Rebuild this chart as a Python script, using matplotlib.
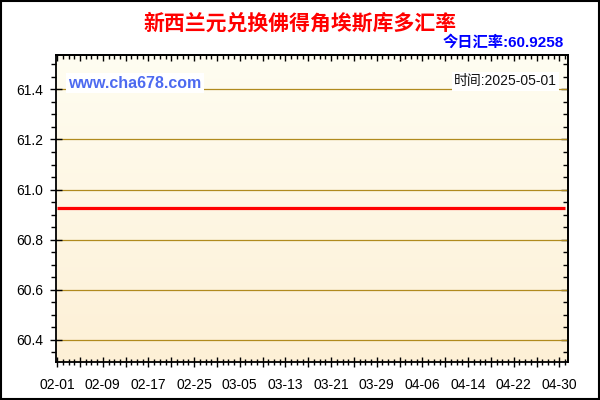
import numpy as np
import pandas as pd
import matplotlib
matplotlib.use('Agg')
import matplotlib.pyplot as plt
import matplotlib.dates as mdates
from matplotlib.colors import LinearSegmentedColormap
from matplotlib.patches import Rectangle
from matplotlib.ticker import FixedLocator, MultipleLocator, FuncFormatter, NullFormatter

plt.rcParams['font.family'] = ['Liberation Sans', 'Noto Sans CJK SC', 'DejaVu Sans']

# Data: the rate stayed flat over the whole period
dates = pd.to_datetime(['2025-02-01', '2025-05-01'])
rates = [60.9258, 60.9258]
title = '新西兰元兑换佛得角埃斯库多汇率'
today_rate = '今日汇率:60.9258'
site = 'www.cha678.com'
stamp = '时间:2025-05-01'
y_ticks = [60.4, 60.6, 60.8, 61.0, 61.2, 61.4]

fig = plt.figure(figsize=(6, 4), dpi=100)
fig.patch.set_facecolor('white')
ax = fig.add_axes([55.7 / 600, 1 - 361.7 / 400, (568.3 - 55.7) / 600, (361.7 - 55.3) / 400])

# gradient background of the plot area
cmap = LinearSegmentedColormap.from_list('bg', ['#FDF0D6', '#FFFDF1'])
grad = np.linspace(0, 1, 256).reshape(-1, 1)
ax.imshow(grad, extent=[0, 1, 0, 1], transform=ax.transAxes, aspect='auto',
          cmap=cmap, origin='lower', zorder=0)

x = mdates.date2num(dates)
ax.plot(x, rates, color='#FF0000', lw=2.3, zorder=3, solid_capstyle='butt')

for v in y_ticks:
    ax.axhline(v, color='#B08A1E', lw=0.9, zorder=1)

x0 = mdates.date2num(pd.Timestamp('2025-02-01'))
ax.set_xlim(x0 - 0.25, x0 + 89.55)
ax.set_ylim(60.313, 61.536)

# x ticks: daily minor, every 4 days major, labels every 8 days
major_days = mdates.date2num(pd.date_range('2025-02-01', '2025-05-01', freq='4D'))
minor_days = mdates.date2num(pd.date_range('2025-02-01', '2025-05-01', freq='D'))
ax.xaxis.set_major_locator(FixedLocator(major_days))
ax.xaxis.set_minor_locator(FixedLocator(minor_days))

def date_label(v, pos):
    d = mdates.num2date(v)
    if int(round(v - x0)) % 8 == 0:
        return d.strftime('%m-%d')
    return ''

ax.xaxis.set_major_formatter(FuncFormatter(date_label))
ax.yaxis.set_major_locator(FixedLocator(y_ticks))
ax.yaxis.set_minor_locator(MultipleLocator(0.05))
ax.yaxis.set_major_formatter(FuncFormatter(lambda v, p: '%.1f' % v))

ax.tick_params(axis='y', which='major', direction='inout', length=8, width=1,
               labelsize=10, pad=5)
ax.tick_params(axis='y', which='minor', direction='out', length=3.5, width=1)
ax.tick_params(axis='x', which='major', direction='inout', length=7, width=1,
               labelsize=10, pad=8)
ax.tick_params(axis='x', which='minor', direction='inout', length=4, width=1)

# top and right ticks point inward only
top = ax.secondary_xaxis('top')
top.xaxis.set_major_locator(FixedLocator(major_days))
top.xaxis.set_minor_locator(FixedLocator(minor_days))
top.xaxis.set_major_formatter(NullFormatter())
top.tick_params(which='major', direction='in', length=4.5, width=1)
top.tick_params(which='minor', direction='in', length=3, width=1)
right = ax.secondary_yaxis('right')
right.yaxis.set_major_locator(FixedLocator(y_ticks))
right.yaxis.set_minor_locator(MultipleLocator(0.05))
right.yaxis.set_major_formatter(NullFormatter())
right.tick_params(which='major', direction='in', length=5, width=1)
right.tick_params(which='minor', direction='in', length=3.5, width=1)

for a in (ax, top, right):
    for sp in a.spines.values():
        sp.set_linewidth(1.3)
        sp.set_color('black')

fig.text(0.5, 1 - 23.5 / 400, title, ha='center', va='center', color='#FF0000',
         fontsize=15, fontweight='bold', family=['Noto Sans CJK SC'])
fig.text(564 / 600, 1 - 42.5 / 400, today_rate, ha='right', va='center', color='#0000FF',
         fontsize=11, fontweight='bold')
fig.text(68 / 600, 1 - 83 / 400, site, ha='left', va='center', color='#4D6AF0',
         fontsize=11.5, fontweight='bold', zorder=5,
         bbox=dict(boxstyle='square,pad=0.15', fc='white', ec='none'))
fig.text(557 / 600, 1 - 81.5 / 400, stamp, ha='right', va='center', color='#111111',
         fontsize=10, zorder=5,
         bbox=dict(boxstyle='square,pad=0.15', fc='white', ec='none'))

fig.patches.append(Rectangle((1 / 600, 1 / 400), 598 / 600, 398 / 400, transform=fig.transFigure,
                             fill=False, ec='black', lw=1.5))

fig.savefig('out.png', dpi=100)
